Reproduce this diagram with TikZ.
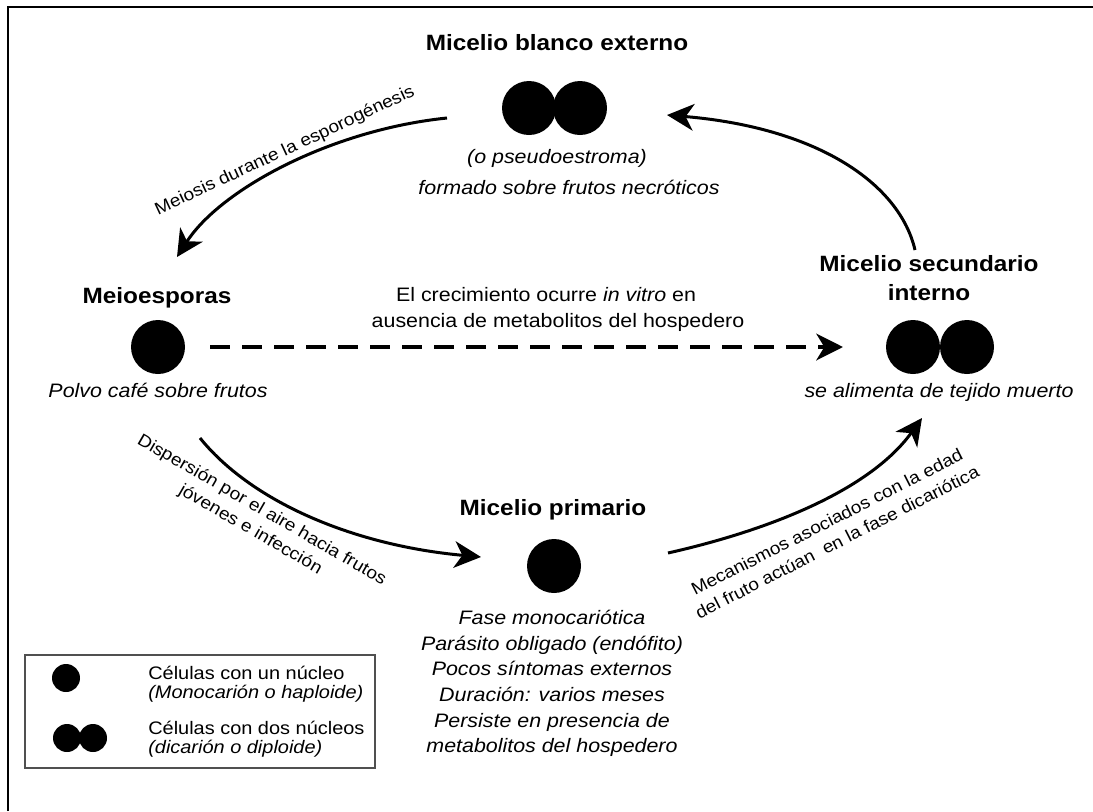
\documentclass[tikz,border=0pt]{standalone}
\usepackage{fontspec}
\setmainfont{Liberation Sans}[FakeStretch=1.1]
\usetikzlibrary{arrows.meta}
\begin{document}
\begin{tikzpicture}[x=0.75pt,y=-0.75pt,
  ttl/.style={font=\fontsize{16.6}{21.75}\selectfont\bfseries, inner sep=0pt, align=center},
  body/.style={font=\fontsize{14.6}{19.2}\selectfont, inner sep=0pt, align=center},
  ibody/.style={font=\fontsize{14.6}{19.2}\selectfont\itshape, inner sep=0pt, align=center},
  arclbl/.style={font=\fontsize{13}{17}\selectfont, inner sep=0pt, align=center},
  lgd/.style={font=\fontsize{13.6}{15}\selectfont, inner sep=0pt, anchor=west},
  cell/.style={circle, fill=black, draw=none, minimum size=40.5pt, inner sep=0pt},
  smallcell/.style={circle, fill=black, draw=none, minimum size=21pt, inner sep=0pt},
  arr/.style={line width=2.25pt, -{Stealth[length=20pt,width=20pt,inset=6pt]}},
  darr/.style={line width=3pt, dash pattern=on 15pt off 9pt, -{Stealth[length=20pt,width=20pt,inset=6pt]}}
]
\useasboundingbox (0,0) rectangle (1093,811);
\draw[line width=1.5pt] (8,811) -- (8,7) -- (1093,7);

% top: Micelio blanco externo
\node[ttl] (tMB) at (557,43) {Micelio blanco externo};
\node[cell] (mb1) at (529,108) {};
\node[cell] (mb2) at (580,108) {};
\node[ibody] (pseudo) at (557,158) {(o pseudoestroma)};
\node[ibody] (formado) at (569,187) {formado sobre frutos necróticos};

% left: Meioesporas
\node[ttl] (tME) at (157,298) {Meioesporas};
\node[cell] (me) at (158,347) {};
\node[ibody] (polvo) at (158,390) {Polvo café sobre frutos};

% right: Micelio secundario
\node[ttl] (tMS) at (929,278) {Micelio secundario\\interno};
\node[cell] (ms1) at (913,347) {};
\node[cell] (ms2) at (967,347) {};
\node[ibody] (alim) at (939,392) {se alimenta de tejido muerto};

% bottom: Micelio primario
\node[ttl] (tMP) at (553,510) {Micelio primario};
\node[cell] (mp) at (554,566) {};
\node[ibody, anchor=north] (fase) at (552,610) {Fase monocariótica\\Parásito obligado (endófito)\\Pocos síntomas externos\\Duración: varios meses\\Persiste en presencia de\\metabolitos del hospedero};

% middle dashed
\node[body] (crec1) at (546,295) {El crecimiento ocurre \textit{in vitro} en};
\node[body] (crec2) at (558,322) {ausencia de metabolitos del hospedero};
\coordinate (ds) at (210,347);
\coordinate (de) at (843,347);
\draw[darr] (ds) -- (de);

% arrow 1: top -> left
\coordinate (a1s) at (447,118);
\coordinate (a1e) at (177,257);
\draw[arr] (a1s) .. controls (330,130) and (220,190) .. (a1e);
\node[arclbl, rotate=25] (l1) at (285,151) {Meiosis durante la esporogénesis};

% arrow 2: left -> bottom
\coordinate (a2s) at (200,438);
\coordinate (a2e) at (481,557);
\draw[arr] (a2s) .. controls (250,500) and (350,545) .. (a2e);
\node[arclbl, rotate=-30] (l2) at (256,520) {Dispersión por el aire hacia frutos\\jóvenes e infección};

% arrow 3: bottom -> right
\coordinate (a3s) at (668,553);
\coordinate (a3e) at (922,418);
\draw[arr] (a3s) .. controls (770,530) and (870,490) .. (a3e);
\node[arclbl, rotate=27] (l3) at (832,532) {Mecanismos asociados con la edad\\del fruto actúan\ \ en la fase dicariótica};

% arrow 4: right -> top
\coordinate (a4s) at (915,250);
\coordinate (a4e) at (667,115);
\draw[arr] (a4s) .. controls (900,185) and (820,128) .. (a4e);

% legend
\node[draw={rgb,255:red,80;green,80;blue,80}, line width=1.1pt, minimum width=262.5pt, minimum height=84.75pt, inner sep=0pt] (lgbox) at (200,711.5) {};
\node[smallcell] (lc1) at (66,678) {};
\node[smallcell] (lc2) at (67,738) {};
\node[smallcell] (lc3) at (93,738) {};
\node[lgd] (lt1) at (148,673) {Células con un núcleo};
\node[lgd] (lt2) at (148,694) {\itshape (Monocarión o haploide)};
\node[lgd] (lt3) at (148,728) {Células con dos núcleos};
\node[lgd] (lt4) at (148,749) {\itshape (dicarión o diploide)};
\end{tikzpicture}
\end{document}
